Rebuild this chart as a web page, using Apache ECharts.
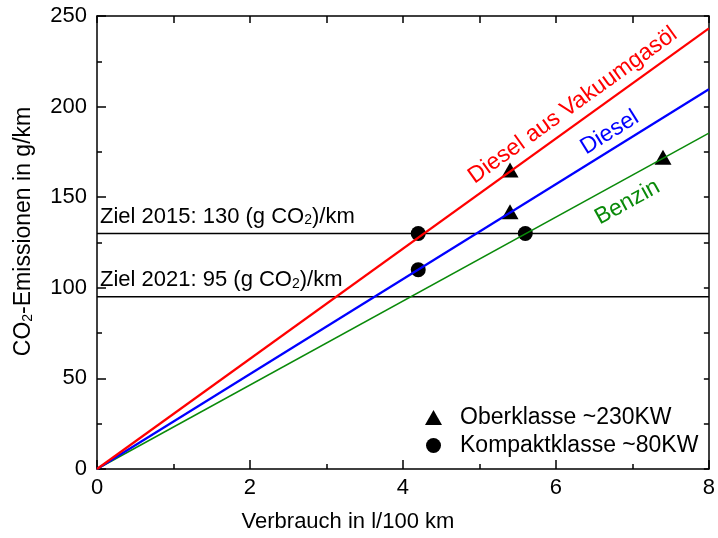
<!DOCTYPE html>
<html>
<head>
<meta charset="utf-8">
<script src="https://cdn.jsdelivr.net/npm/echarts@6/dist/echarts.min.js"></script>
<style>
html,body{margin:0;padding:0;background:#fff;}
#chart{width:718px;height:538px;}
</style>
</head>
<body>
<div id="chart"></div>
<script>
// ---- data ----
const xRange = [0, 8];
const yRange = [0, 250];
const lineX = [0, 8];
const vakuumY = [0, 243.2];
const dieselY = [0, 209.6];
const benzinY = [0, 185.4];
const targetNames = ['Ziel 2015: 130', 'Ziel 2021: 95'];
const targetValues = [130, 95];
const oberX = [5.4, 5.4, 7.4];
const oberY = [165, 142, 172];
const kompaktX = [4.2, 4.2, 5.6];
const kompaktY = [130, 110, 130];
const legendNames = ['Oberklasse ~230KW', 'Kompaktklasse ~80KW'];
const lineNames = ['Diesel aus Vakuumgasöl', 'Diesel', 'Benzin'];

const FONT = "'Liberation Sans', Arial, sans-serif";
const FS = 22;
const FSL = 23;

function pairs(xs, ys) { return xs.map((x, i) => [x, ys[i]]); }

const chart = echarts.init(document.getElementById('chart'));

const axisLineStyle = { color: '#000', width: 1.5 };

const option = {
  animation: false,
  backgroundColor: '#fff',
  textStyle: { fontFamily: FONT },
  grid: { left: 97, right: 5, top: 16, bottom: 69, containLabel: false },
  legend: {
    data: [
      { name: legendNames[0], icon: 'triangle' },
      { name: legendNames[1], icon: 'circle' }
    ],
    orient: 'vertical',
    left: 420,
    top: 401,
    itemGap: 5,
    itemWidth: 17,
    itemHeight: 15,
    textStyle: { fontSize: FSL, color: '#000', fontFamily: FONT, padding: [0, 0, 0, 13] }
  },
  xAxis: [
    {
      type: 'value', position: 'bottom', min: xRange[0], max: xRange[1], interval: 2,
      axisLine: { show: true, onZero: false, lineStyle: axisLineStyle },
      axisTick: { show: true, inside: true, length: 9, lineStyle: axisLineStyle },
      minorTick: { show: true, splitNumber: 2, length: 5, lineStyle: { color: '#000', width: 1.5 } },
      axisLabel: { fontSize: FS, color: '#000', margin: 8, fontFamily: FONT },
      splitLine: { show: false },
      name: 'Verbrauch in l/100 km',
      nameLocation: 'middle',
      nameGap: 42,
      nameTextStyle: { fontSize: FS, color: '#000', fontFamily: FONT, padding: [0, 110, 0, 0] }
    },
    {
      type: 'value', position: 'top', min: xRange[0], max: xRange[1], interval: 1,
      axisLine: { show: true, onZero: false, lineStyle: axisLineStyle },
      axisTick: { show: true, inside: true, length: 7, lineStyle: axisLineStyle },
      axisLabel: { show: false },
      splitLine: { show: false }
    }
  ],
  yAxis: [
    {
      type: 'value', position: 'left', min: yRange[0], max: yRange[1], interval: 50,
      axisLine: { show: true, onZero: false, lineStyle: axisLineStyle },
      axisTick: { show: true, inside: true, length: 9, lineStyle: axisLineStyle },
      minorTick: { show: true, splitNumber: 2, length: 5, lineStyle: { color: '#000', width: 1.5 } },
      axisLabel: { fontSize: FS, color: '#000', margin: 10, fontFamily: FONT },
      splitLine: { show: false },
      name: '{a|CO}{s|2}{a|-Emissionen in g/km}',
      nameLocation: 'middle',
      nameGap: 62,
      nameTextStyle: {
        fontFamily: FONT, color: '#000', padding: [0, 0, 0, 22],
        rich: {
          a: { fontSize: FSL, fontFamily: FONT, color: '#000', lineHeight: 24, verticalAlign: 'bottom' },
          s: { fontSize: 14, fontFamily: FONT, color: '#000', lineHeight: 9, verticalAlign: 'bottom' }
        }
      }
    },
    {
      type: 'value', position: 'right', min: yRange[0], max: yRange[1], interval: 25,
      axisLine: { show: true, onZero: false, lineStyle: axisLineStyle },
      axisTick: { show: true, inside: true, length: 5, lineStyle: axisLineStyle },
      axisLabel: { show: false },
      splitLine: { show: false }
    }
  ],
  series: [
    {
      type: 'line', name: targetNames[0], data: pairs(xRange, [targetValues[0], targetValues[0]]),
      symbol: 'none', lineStyle: { color: '#000', width: 1.5 }, silent: true
    },
    {
      type: 'line', name: targetNames[1], data: pairs(xRange, [targetValues[1], targetValues[1]]),
      symbol: 'none', lineStyle: { color: '#000', width: 1.5 }, silent: true
    },
    {
      type: 'line', name: lineNames[2], data: pairs(lineX, benzinY),
      symbol: 'none', lineStyle: { color: '#0a8a0a', width: 1.5 }
    },
    {
      type: 'line', name: lineNames[1], data: pairs(lineX, dieselY),
      symbol: 'none', lineStyle: { color: '#0000ff', width: 2.2 }
    },
    {
      type: 'line', name: lineNames[0], data: pairs(lineX, vakuumY),
      symbol: 'none', lineStyle: { color: '#ff0000', width: 2.2 }
    },
    {
      type: 'scatter', name: legendNames[0], data: pairs(oberX, oberY),
      symbol: 'triangle', symbolSize: [17, 15], itemStyle: { color: '#000', opacity: 1 }
    },
    {
      type: 'scatter', name: legendNames[1], data: pairs(kompaktX, kompaktY),
      symbol: 'circle', symbolSize: 15, itemStyle: { color: '#000', opacity: 1 }
    }
  ]
};

chart.setOption(option);

// ---- text annotations positioned through the chart's own scales ----
function px(x, y) { return chart.convertToPixel({ gridIndex: 0 }, [x, y]); }

function lineLabel(text, ys, atX, dist, color) {
  const p0 = px(lineX[0], ys[0]);
  const p1 = px(lineX[1], ys[1]);
  const theta = Math.atan2(p0[1] - p1[1], p1[0] - p0[0]);
  const yAt = ys[0] + (ys[1] - ys[0]) * (atX - lineX[0]) / (lineX[1] - lineX[0]);
  const p = px(atX, yAt);
  const cx = p[0] - dist * Math.sin(theta);
  const cy = p[1] - dist * Math.cos(theta);
  return {
    type: 'text', x: cx, y: cy, rotation: theta, originX: 0, originY: 0,
    style: { text: text, fill: color, font: FSL + 'px ' + FONT, align: 'center', verticalAlign: 'middle' },
    silent: true
  };
}

function targetLabel(prefix, value) {
  const p = px(xRange[0], value);
  return {
    type: 'text', x: p[0] + 3, y: p[1] - 6,
    style: {
      text: '{a|' + prefix + ' (g CO}{s|2}{a|)/km}',
      rich: {
        a: { fontSize: FS, fontFamily: FONT, fill: '#000', color: '#000', lineHeight: 24, verticalAlign: 'bottom' },
        s: { fontSize: 14, fontFamily: FONT, fill: '#000', color: '#000', lineHeight: 9, verticalAlign: 'bottom' }
      },
      align: 'left', verticalAlign: 'bottom'
    },
    silent: true
  };
}

chart.setOption({
  graphic: [
    lineLabel(lineNames[0], vakuumY, 6.35, 17, '#ff0000'),
    lineLabel(lineNames[1], dieselY, 6.81, 15.5, '#0000ff'),
    lineLabel(lineNames[2], benzinY, 6.80, -21.5, '#0a8a0a'),
    targetLabel(targetNames[0], targetValues[0]),
    targetLabel(targetNames[1], targetValues[1])
  ]
});
</script>
</body>
</html>
